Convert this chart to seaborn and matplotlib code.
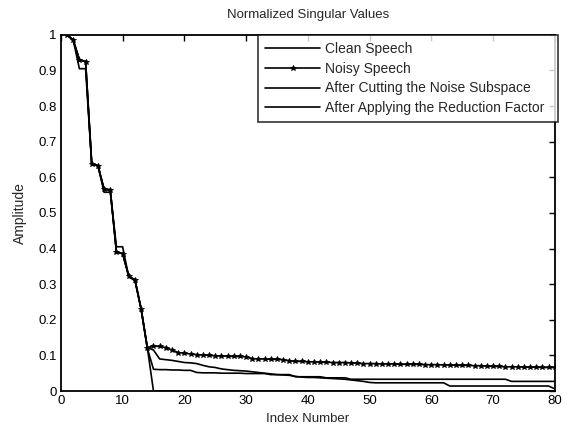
import numpy as np
import pandas as pd
import matplotlib
matplotlib.use('Agg')
import matplotlib.pyplot as plt
import seaborn as sns

# singular value indices
index = list(range(1, 81))

noisy = [1.000, 0.985, 0.930, 0.925, 0.636, 0.633, 0.566, 0.565, 0.390, 0.386,
         0.322, 0.312, 0.230, 0.122, 0.126, 0.125, 0.122, 0.115, 0.108, 0.106,
         0.104, 0.102, 0.101, 0.100, 0.099, 0.098, 0.098, 0.097, 0.097, 0.096,
         0.091, 0.090, 0.090, 0.089, 0.089, 0.088, 0.085, 0.083, 0.083, 0.082,
         0.082, 0.081, 0.081, 0.080, 0.080, 0.080, 0.079, 0.078, 0.077, 0.077,
         0.077, 0.076, 0.076, 0.076, 0.075, 0.075, 0.075, 0.075, 0.074, 0.074,
         0.074, 0.073, 0.073, 0.072, 0.072, 0.072, 0.071, 0.071, 0.070, 0.069,
         0.069, 0.068, 0.068, 0.068, 0.067, 0.067, 0.067, 0.066, 0.066, 0.066]

clean = [1.000, 0.985, 0.905, 0.905, 0.636, 0.633, 0.558, 0.558, 0.405, 0.405,
         0.320, 0.310, 0.230, 0.120, 0.061, 0.060, 0.060, 0.059, 0.059, 0.058,
         0.058, 0.052, 0.051, 0.051, 0.051, 0.050, 0.050, 0.050, 0.050, 0.049,
         0.049, 0.049, 0.049, 0.046, 0.046, 0.046, 0.046, 0.040, 0.040, 0.040,
         0.040, 0.040, 0.037, 0.037, 0.037, 0.037, 0.033, 0.033, 0.033, 0.033,
         0.033, 0.033, 0.033, 0.033, 0.033, 0.033, 0.033, 0.033, 0.033, 0.033,
         0.033, 0.033, 0.033, 0.033, 0.033, 0.033, 0.033, 0.033, 0.033, 0.033,
         0.033, 0.033, 0.027, 0.027, 0.027, 0.027, 0.027, 0.027, 0.027, 0.027]

cut = [1.000, 0.985, 0.930, 0.925, 0.636, 0.633, 0.566, 0.565, 0.390, 0.386,
       0.322, 0.312, 0.230, 0.122] + [0.0] * 66

reduced = [1.000, 0.985, 0.930, 0.925, 0.636, 0.633, 0.566, 0.565, 0.390, 0.386,
           0.322, 0.312, 0.230, 0.122, 0.115, 0.090, 0.088, 0.086, 0.083, 0.080,
           0.079, 0.077, 0.072, 0.068, 0.066, 0.062, 0.060, 0.058, 0.057, 0.056,
           0.054, 0.052, 0.050, 0.048, 0.046, 0.045, 0.044, 0.041, 0.039, 0.038,
           0.038, 0.037, 0.036, 0.035, 0.034, 0.033, 0.031, 0.029, 0.027, 0.024,
           0.023, 0.023, 0.023, 0.023, 0.023, 0.023, 0.023, 0.023, 0.023, 0.023,
           0.023, 0.023, 0.014, 0.014, 0.014, 0.014, 0.014, 0.014, 0.014, 0.014,
           0.014, 0.014, 0.014, 0.014, 0.014, 0.014, 0.014, 0.014, 0.014, 0.006]

labels = ['Clean Speech', 'Noisy Speech', 'After Cutting the Noise Subspace',
          'After Applying the Reduction Factor']

sns.set_style('white')
plt.rcParams['font.family'] = ['Liberation Sans', 'DejaVu Sans']

fig = plt.figure(figsize=(5.69, 4.25), dpi=100)
ax = fig.add_axes([0.107, 0.08, 0.868, 0.838])

sns.lineplot(x=index, y=clean, ax=ax, color='k', lw=1.2, label=labels[0])
sns.lineplot(x=index, y=noisy, ax=ax, color='k', lw=1.2, marker='*',
             markersize=4, markeredgewidth=0.6, markeredgecolor='k',
             markerfacecolor='k', label=labels[1])
sns.lineplot(x=index, y=cut, ax=ax, color='k', lw=1.2, label=labels[2])
sns.lineplot(x=index, y=reduced, ax=ax, color='k', lw=1.2, label=labels[3])

ax.set_xlim(0, 80)
ax.set_ylim(0, 1)
ax.set_xticks(range(0, 81, 10))
ax.set_yticks(np.arange(0, 1.01, 0.1))
ax.set_yticklabels(['0', '0.1', '0.2', '0.3', '0.4', '0.5', '0.6', '0.7', '0.8', '0.9', '1'])
ax.tick_params(direction='in', length=4, width=1, top=True, right=True,
               labelsize=9.5, colors='k', pad=3)
for s in ax.spines.values():
    s.set_visible(True)
    s.set_color('k')
    s.set_linewidth(1.3)

ax.set_title('Normalized Singular Values', fontsize=9.5, pad=12)
ax.set_xlabel('Index Number', fontsize=9.5, labelpad=4)
ax.set_ylabel('Amplitude', fontsize=10, labelpad=8)

leg = ax.legend(loc='upper left', bbox_to_anchor=(0.399, 0, 0.607, 1.0),
                mode='expand', borderaxespad=0, fontsize=10, frameon=True,
                fancybox=False, handlelength=4.0, labelspacing=0.42,
                handletextpad=0.36, borderpad=0.5)
leg.get_frame().set_edgecolor('k')
leg.get_frame().set_linewidth(1.2)

fig.savefig('out.png', dpi=100)
